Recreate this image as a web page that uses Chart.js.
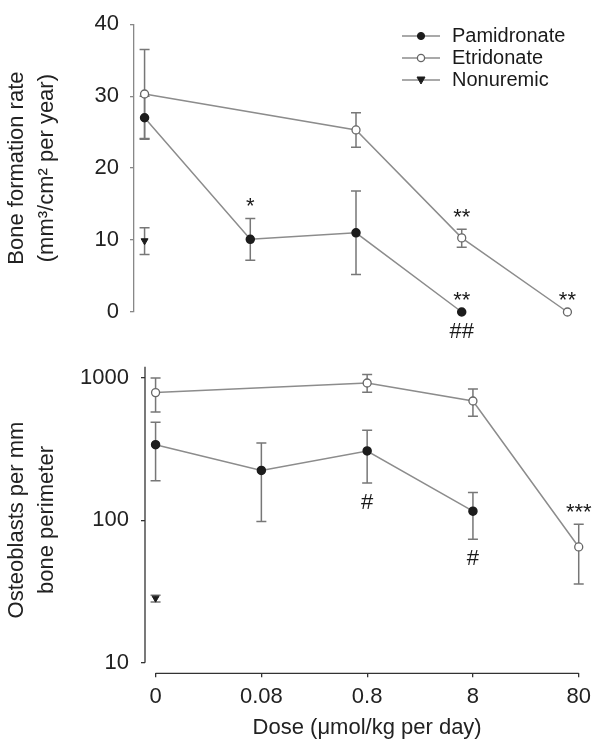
<!DOCTYPE html>
<html>
<head>
<meta charset="utf-8">
<script src="https://cdn.jsdelivr.net/npm/chart.js@4"></script>
<style>
  body { margin: 0; background: #fff; }
  #wrap { position: relative; width: 602px; height: 750px; }
  #top { position: absolute; left: 0; top: 0; }
  #bottom { position: absolute; left: 0; top: 340px; }
</style>
</head>
<body>
<div id="wrap">
  <canvas id="top" width="602" height="350"></canvas>
  <canvas id="bottom" width="602" height="410"></canvas>
</div>
<script>
// dose categories (x axis)
var doseLabels = ['0', '0.08', '0.8', '8', '80'];

// bone formation rate (top panel)
var bfrPam = [27.0, 10.1, 11.0, 0, null];
var bfrPamLo = [24.0, 7.2, 5.2, null, null];
var bfrPamHi = [30.0, 13.0, 16.8, null, null];
var bfrEtr = [30.3, null, 25.3, 10.3, 0];
var bfrEtrLo = [24.1, null, 22.9, 9.0, null];
var bfrEtrHi = [36.5, null, 27.7, 11.5, null];
var bfrNon = [9.9, null, null, null, null];
var bfrNonLo = [8.0, null, null, null, null];
var bfrNonHi = [11.7, null, null, null, null];

// osteoblasts per mm bone perimeter (bottom panel, log)
var obPam = [340, 224, 307, 116, null];
var obPamLo = [190, 98, 183, 73.5, null];
var obPamHi = [488, 349, 429, 157, null];
var obEtr = [789, null, 922, 689, 65];
var obEtrLo = [577, null, 794, 538, 35.7];
var obEtrHi = [1000, null, 1057, 837, 93.8];
var obNon = [28.4, null, null, null, null];
var obNonLo = [26.7, null, null, null, null];
var obNonHi = [29.8, null, null, null, null];

// significance marks: [dataset index, dose index, text, side]
var bfrNotes = [[0, 1, '*', 'above'], [1, 3, '**', 'above'], [0, 3, '**', 'above'], [0, 3, '##', 'below'], [1, 4, '**', 'above']];
var obNotes = [[0, 2, '#', 'below'], [0, 3, '#', 'below'], [1, 4, '***', 'above']];

var seriesNames = ['Pamidronate', 'Etridonate', 'Nonuremic'];

Chart.defaults.font.family = "'Liberation Sans', Arial, Helvetica, sans-serif";
Chart.defaults.color = '#222';
Chart.defaults.animation = false;

var LINE = '#8c8c8c';
var DARK = '#1c1c1c';

function pts(arr) {
  return arr.map(function (v, i) { return { x: i, y: v }; });
}

function makeSets(pam, etr, non, lo, hi) {
  return [
    { label: seriesNames[0], data: pts(pam), lo: lo[0], hi: hi[0], borderColor: LINE, borderWidth: 1.5,
      pointRadius: 4, pointBackgroundColor: DARK, pointBorderColor: DARK, spanGaps: true, clip: false },
    { label: seriesNames[1], data: pts(etr), lo: lo[1], hi: hi[1], borderColor: LINE, borderWidth: 1.5,
      pointRadius: 4, pointBackgroundColor: '#fff', pointBorderColor: '#666', pointBorderWidth: 1.3, spanGaps: true, clip: false },
    { label: seriesNames[2], data: pts(non), lo: lo[2], hi: hi[2], showLine: false, pointStyle: 'triangle', pointRotation: 180,
      pointRadius: 4, pointBackgroundColor: DARK, pointBorderColor: DARK, clip: false }
  ];
}

// error bars, drawn under the markers
var errorBars = {
  id: 'errorBars',
  beforeDatasetsDraw: function (chart) {
    var ctx = chart.ctx, xs = chart.scales.x, ys = chart.scales.y;
    ctx.save();
    ctx.strokeStyle = '#777';
    ctx.lineWidth = 1.5;
    chart.data.datasets.forEach(function (ds) {
      ds.data.forEach(function (p, i) {
        if (ds.lo[i] == null || ds.hi[i] == null) return;
        var x = xs.getPixelForValue(p.x);
        var y1 = ys.getPixelForValue(ds.lo[i]);
        var y2 = ys.getPixelForValue(ds.hi[i]);
        ctx.beginPath();
        ctx.moveTo(x, y1); ctx.lineTo(x, y2);
        ctx.moveTo(x - 5, y1); ctx.lineTo(x + 5, y1);
        ctx.moveTo(x - 5, y2); ctx.lineTo(x + 5, y2);
        ctx.stroke();
      });
    });
    ctx.restore();
  }
};

// stars / hashes next to the points
var notes = {
  id: 'notes',
  afterDatasetsDraw: function (chart, args, opts) {
    var ctx = chart.ctx, xs = chart.scales.x, ys = chart.scales.y;
    ctx.save();
    ctx.fillStyle = '#1a1a1a';
    ctx.font = '22px ' + Chart.defaults.font.family;
    ctx.textAlign = 'center';
    ctx.textBaseline = 'alphabetic';
    opts.list.forEach(function (n) {
      var ds = chart.data.datasets[n[0]];
      var i = n[1];
      var x = xs.getPixelForValue(i);
      var cy;
      if (n[3] === 'above') {
        var top = ds.hi[i] != null ? ds.hi[i] : ds.data[i].y;
        cy = ys.getPixelForValue(top) - 18;
      } else {
        var bot = ds.lo[i] != null ? ds.lo[i] : ds.data[i].y;
        cy = ys.getPixelForValue(bot) + 18;
      }
      var shift = n[2].charAt(0) === '*' ? 13 : 8;
      ctx.fillText(n[2], x, cy + shift);
    });
    ctx.restore();
  }
};

// legend with line + marker
var lineLegend = {
  id: 'lineLegend',
  afterDraw: function (chart) {
    var ctx = chart.ctx;
    ctx.save();
    ctx.font = '20px ' + Chart.defaults.font.family;
    ctx.textBaseline = 'middle';
    ctx.fillStyle = '#1a1a1a';
    chart.data.datasets.forEach(function (ds, k) {
      var y = 36 + k * 22;
      ctx.strokeStyle = LINE;
      ctx.lineWidth = 1.5;
      ctx.beginPath(); ctx.moveTo(402, y); ctx.lineTo(440, y); ctx.stroke();
      ctx.fillStyle = ds.pointBackgroundColor;
      ctx.strokeStyle = ds.pointBorderColor;
      ctx.lineWidth = ds.pointBorderWidth || 1;
      ctx.beginPath();
      if (ds.pointStyle === 'triangle') {
        ctx.moveTo(421 - 4, y - 3); ctx.lineTo(421 + 4, y - 3); ctx.lineTo(421, y + 4); ctx.closePath();
      } else {
        ctx.arc(421, y, 3.6, 0, Math.PI * 2);
      }
      ctx.fill(); ctx.stroke();
      ctx.fillStyle = '#1a1a1a';
      ctx.fillText(ds.label, 452, y);
    });
    ctx.restore();
  }
};

// bottom panel axes drawn apart from each other
var splitAxes = {
  id: 'splitAxes',
  afterDraw: function (chart) {
    var ctx = chart.ctx, a = chart.chartArea, xs = chart.scales.x, ys = chart.scales.y;
    ctx.save();
    ctx.strokeStyle = '#333';
    ctx.lineWidth = 1.3;
    ctx.beginPath();
    ctx.moveTo(a.left, a.top); ctx.lineTo(a.left, ys.getPixelForValue(10));
    ctx.moveTo(xs.getPixelForValue(0), a.bottom); ctx.lineTo(xs.getPixelForValue(doseLabels.length - 1), a.bottom);
    ctx.stroke();
    ctx.restore();
  }
};

var top = new Chart(document.getElementById('top'), {
  type: 'line',
  data: { datasets: makeSets(bfrPam, bfrEtr, bfrNon, [bfrPamLo, bfrEtrLo, bfrNonLo], [bfrPamHi, bfrEtrHi, bfrNonHi]) },
  options: {
    responsive: false,
    events: [],
    layout: { padding: { left: 0, right: 24, top: 17, bottom: 38 } },
    plugins: { legend: { display: false }, tooltip: { enabled: false }, notes: { list: bfrNotes } },
    scales: {
      x: { type: 'linear', min: -0.1, max: 4.1, display: false },
      y: {
        min: 0, max: 40,
        ticks: { stepSize: 10, font: { size: 22 }, color: '#222', padding: 11 },
        grid: { drawOnChartArea: false, tickLength: 4, color: '#888', lineWidth: 1.3 },
        border: { color: '#888', width: 1.3 },
        title: { display: true, text: ['Bone formation rate', '(mm³/cm² per year)'], font: { size: 22, lineHeight: 1.36 }, color: '#222', padding: { top: 2, bottom: 0 } },
        afterFit: function (s) { s.width = 134; }
      }
    }
  },
  plugins: [errorBars, notes, lineLegend]
});

var bottom = new Chart(document.getElementById('bottom'), {
  type: 'line',
  data: { datasets: makeSets(obPam, obEtr, obNon, [obPamLo, obEtrLo, obNonLo], [obPamHi, obEtrHi, obNonHi]) },
  options: {
    responsive: false,
    events: [],
    layout: { padding: { left: 0, right: 12.7, top: 26.7, bottom: 0 } },
    plugins: { legend: { display: false }, tooltip: { enabled: false }, notes: { list: obNotes } },
    scales: {
      x: {
        type: 'linear', min: -0.1, max: 4.1,
        afterBuildTicks: function (s) { s.ticks = doseLabels.map(function (d, i) { return { value: i }; }); },
        ticks: { font: { size: 22 }, color: '#222', padding: 6, callback: function (v) { return doseLabels[v]; } },
        grid: { drawOnChartArea: false, tickLength: 4, color: '#333', lineWidth: 1.3 },
        border: { display: false },
        title: { display: true, text: 'Dose (μmol/kg per day)', font: { size: 22 }, color: '#222', padding: { top: 0, bottom: 9 } },
        afterFit: function (s) { s.height = 76.7; }
      },
      y: {
        type: 'logarithmic', min: 8.42, max: 1200,
        afterBuildTicks: function (s) { s.ticks = [{ value: 10 }, { value: 100 }, { value: 1000 }]; },
        ticks: { font: { size: 22 }, color: '#222', padding: 12, callback: function (v) { return String(v); } },
        grid: { drawOnChartArea: false, tickLength: 4, color: '#333', lineWidth: 1.3 },
        border: { display: false },
        title: { display: true, text: ['Osteoblasts per mm', 'bone perimeter'], font: { size: 22, lineHeight: 1.36 }, color: '#222', padding: { top: 2, bottom: 0 } },
        afterFit: function (s) { s.width = 145; }
      }
    }
  },
  plugins: [errorBars, notes, splitAxes]
});
</script>
</body>
</html>
